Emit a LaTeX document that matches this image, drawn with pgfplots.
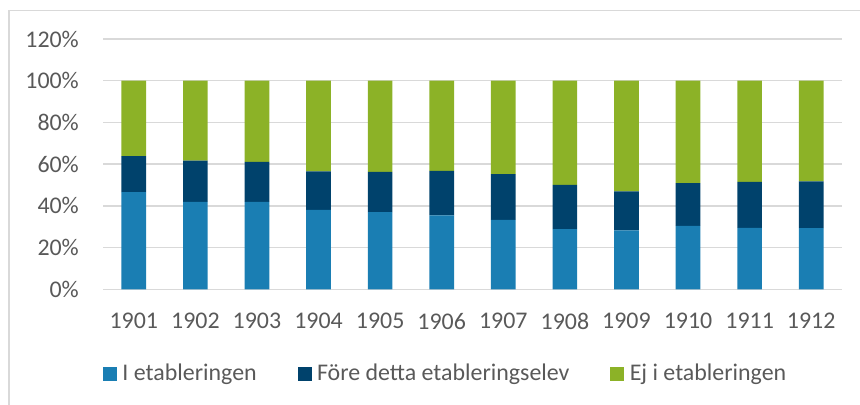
\documentclass[border=0pt]{standalone}
\usepackage{pgfplots}
\pgfplotsset{compat=1.18}
\usepackage{fontspec}
\setmainfont{Carlito}
\definecolor{cBlue}{HTML}{1A7EB3}
\definecolor{cDark}{HTML}{00426C}
\definecolor{cGreen}{HTML}{8CB227}
\definecolor{cGrid}{HTML}{D9D9D9}
\definecolor{cText}{HTML}{595959}
\definecolor{cBorder}{HTML}{D9D9D9}
\begin{document}
\fontsize{24}{28}\selectfont
\begin{tikzpicture}
\path[use as bounding box] (0bp,0bp) rectangle (860bp,405bp);
\draw[cBorder, line width=1.2bp] (9bp,-2bp) -- (9bp,394.5bp) -- (862bp,394.5bp);
\begin{axis}[
  at={(103bp,115.7bp)}, anchor=south west,
  scale only axis, width=739bp, height=250.3bp,
  ybar stacked, bar width=0.4,
  xmin=-0.5, xmax=11.5, ymin=0, ymax=120,
  xtick=data,
  xticklabels={1901,1902,1903,1904,1905,1906,1907,1908,1909,1910,1911,1912},
  ytick={0,20,40,60,80,100,120},
  yticklabel={\pgfmathprintnumber{\tick}\%},
  /pgf/number format/assume math mode=true,
  major tick length=0pt,
  axis line style={draw=none},
  ymajorgrids, grid style={cGrid, line width=1.3bp},
  ticklabel style={font=\fontsize{24}{28}\selectfont, text=cText},
  yticklabel style={xshift=-16bp},
  xticklabel style={yshift=-15.5bp},
  legend columns=3,
  legend style={draw=none, fill=none, inner sep=0pt, outer sep=0pt,
    at={(rel axis cs:0,-0.337)}, anchor=west,
    font=\fontsize{24}{28}\selectfont, text=cText,
    nodes={inner sep=0pt},
    /tikz/every odd column/.append style={column sep=5.5bp},
    /tikz/every even column/.append style={column sep=40.8bp}},
  legend image code/.code={\fill[#1] (0bp,-7bp) rectangle (14bp,7bp);},
]
\addplot[fill=cBlue, draw=none] coordinates {
 (0,46.6) (1,41.9) (2,41.9) (3,38.1) (4,37.0) (5,35.5)
 (6,33.3) (7,28.9) (8,28.3) (9,30.4) (10,29.4) (11,29.3)};
\addplot[fill=cDark, draw=none] coordinates {
 (0,17.2) (1,19.8) (2,19.2) (3,18.4) (4,19.3) (5,21.3)
 (6,21.9) (7,21.2) (8,18.7) (9,20.5) (10,22.1) (11,22.5)};
\addplot[fill=cGreen, draw=none] coordinates {
 (0,36.2) (1,38.3) (2,38.9) (3,43.5) (4,43.7) (5,43.2)
 (6,44.8) (7,49.9) (8,53.0) (9,49.1) (10,48.5) (11,48.2)};
\legend{I etableringen, Före detta etableringselev, Ej i etableringen}
\end{axis}
\end{tikzpicture}
\end{document}
